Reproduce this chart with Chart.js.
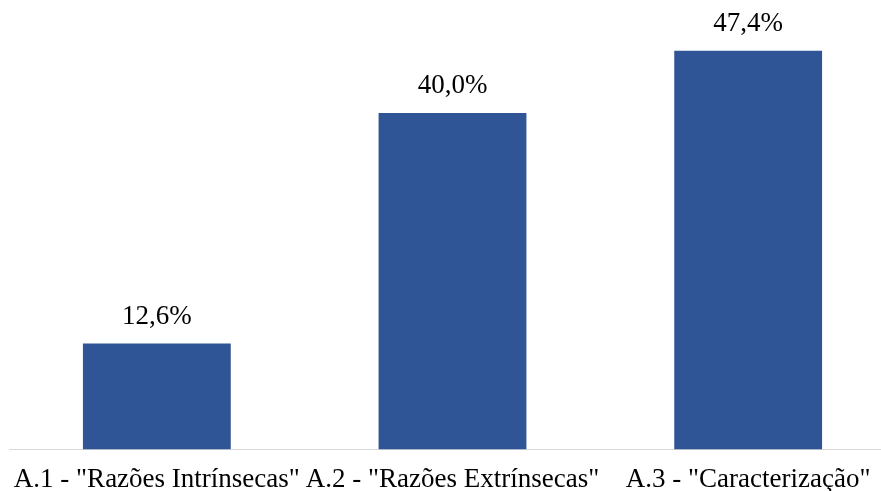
<!DOCTYPE html>
<html>
<head>
<meta charset="utf-8">
<script src="https://cdn.jsdelivr.net/npm/chart.js@4/dist/chart.umd.min.js"></script>
<style>
    html, body { margin: 0; padding: 0; background: #fff; overflow: hidden; }
    #wrap { width: 896px; height: 491px; }
</style>
</head>
<body>
<div id="wrap"><canvas id="chart"></canvas></div>
<script>
let categories = ['A.1 - "Razões Intrínsecas"', 'A.2 - "Razões Extrínsecas"', 'A.3 - "Caracterização"'];
let values = [12.6, 40.0, 47.4];

const FONT = "'Liberation Serif', 'Times New Roman', serif";

// value labels above bars
const barLabels = {
    id: 'barLabels',
    afterDatasetsDraw(chart) {
        let ctx = chart.ctx;
        let meta = chart.getDatasetMeta(0);
        ctx.save();
        ctx.font = "27px " + FONT;
        ctx.fillStyle = "#000";
        ctx.textAlign = "center";
        ctx.textBaseline = "alphabetic";
        meta.data.forEach((bar, i) => {
            let txt = values[i].toFixed(1).replace('.', ',') + '%';
            ctx.fillText(txt, bar.x, bar.y - 20);
        });
        ctx.restore();
    }
};

new Chart(document.getElementById("chart"), {
    type: 'bar',
    data: {
        labels: categories,
        datasets: [{
            data: values,
            backgroundColor: '#2F5597',
            barPercentage: 0.5,
            categoryPercentage: 1
        }]
    },
    options: {
        responsive: true,
        maintainAspectRatio: false,
        animation: false,
        layout: { padding: { left: 9, right: 0, top: 29, bottom: -11 } },
        plugins: {
            legend: { display: false },
            tooltip: { enabled: false }
        },
        scales: {
            x: {
                grid: { display: false },
                border: { display: true, color: '#d9d9d9', width: 1 },
                ticks: {
                    color: '#000',
                    font: { family: FONT, size: 27, lineHeight: 1.2 },
                    maxRotation: 0,
                    autoSkip: false,
                    padding: 6
                }
            },
            y: {
                display: false,
                min: 0,
                max: 50
            }
        }
    },
    plugins: [barLabels]
});
</script>
</body>
</html>
